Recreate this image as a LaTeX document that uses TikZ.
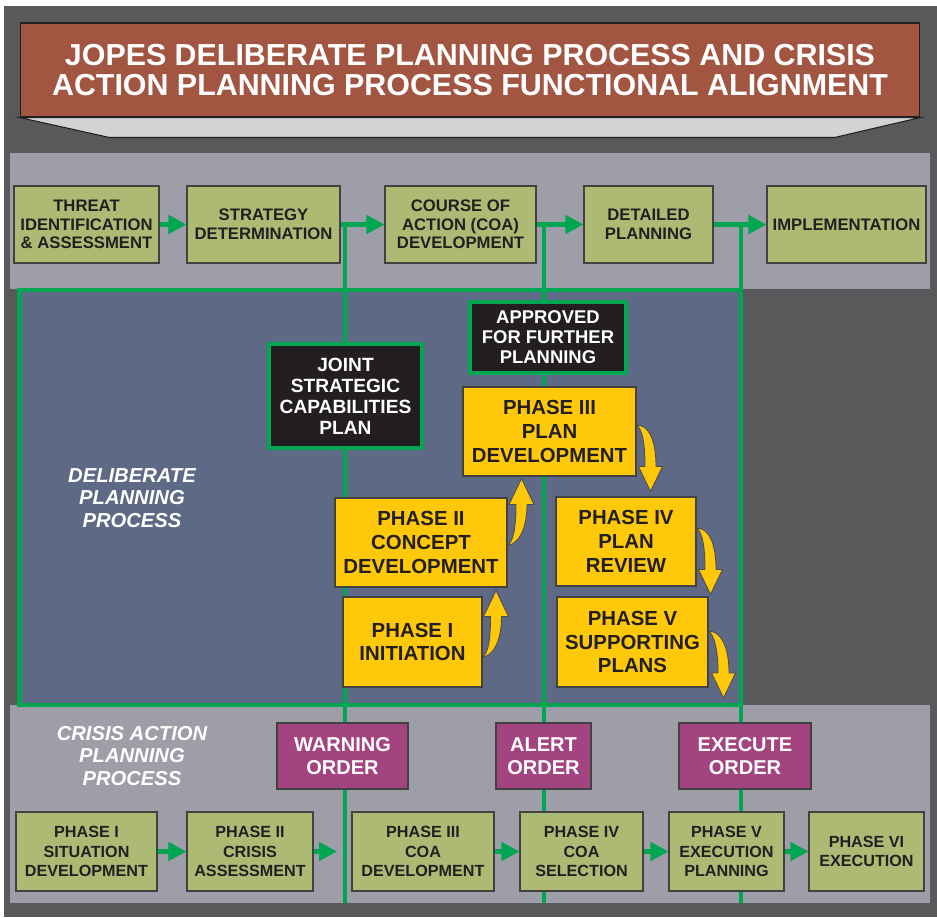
\documentclass[tikz,border=0pt]{standalone}
\usepackage{fontspec}
\setmainfont{Liberation Sans}
\usetikzlibrary{calc,arrows.meta}

\definecolor{bgdark}{HTML}{58595B}
\definecolor{panelgray}{HTML}{9D9EA8}
\definecolor{delblue}{HTML}{5E6A85}
\definecolor{jgreen}{HTML}{00A651}
\definecolor{olive}{HTML}{ADBA74}
\definecolor{pyellow}{HTML}{FFC90A}
\definecolor{ordermag}{HTML}{A34481}
\definecolor{bannerred}{HTML}{A25641}
\definecolor{shadowgray}{HTML}{D1D3D4}
\definecolor{inkdark}{HTML}{231F20}

% curved phase arrows: #1 start on the box edge, #2 tip
\newcommand{\arrup}[2]{%
\filldraw[yarrow](#1)
.. controls ($(#1)+(10,-1)$) and ($(#2)+(5.5,52)$) .. ($(#2)+(5.5,26)$)
--($(#2)+(12.5,26)$)--(#2)--($(#2)+(-12.5,26)$)--($(#2)+(-5.5,26)$)
.. controls ($(#2)+(-5.5,48)$) and ($(#1)+(6,-4)$) .. (#1)--cycle;}
\newcommand{\arrdown}[2]{%
\filldraw[yarrow](#1)
.. controls ($(#1)+(12,0)$) and ($(#2)+(5.5,-52)$) .. ($(#2)+(5.5,-25)$)
--($(#2)+(12,-25)$)--(#2)--($(#2)+(-12,-25)$)--($(#2)+(-5.5,-25)$)
.. controls ($(#2)+(-5.5,-47)$) and ($(#1)+(6,4)$) .. (#1)--cycle;}

\begin{document}
\begin{tikzpicture}[x=0.02cm,y=-0.02cm,font=\bfseries]
% Box styles: olive steps, yellow phases, black plans, magenta orders
\tikzstyle{olive box}=[draw=inkdark!85,line width=0.6pt,fill=olive,text=inkdark,inner sep=0,align=center,font=\bfseries\fontsize{9.5}{10.6}\selectfont];
\tikzstyle{cap box}=[olive box,font=\bfseries\fontsize{9.2}{11}\selectfont];
\tikzstyle{phase box}=[draw=inkdark!85,line width=0.6pt,fill=pyellow,text=inkdark,inner sep=0,align=center,font=\bfseries\fontsize{11.6}{13.6}\selectfont];
\tikzstyle{plan box}=[draw=jgreen,line width=2.5pt,fill=inkdark,text=white,inner sep=0,align=center];
\tikzstyle{order box}=[draw=inkdark!85,line width=0.6pt,fill=ordermag,text=white,inner sep=0,align=center,minimum height=1.32cm,font=\bfseries\fontsize{11.4}{13}\selectfont];
\tikzstyle{side label}=[text=white,align=center,font=\bfseries\itshape\fontsize{11.5}{12.7}\selectfont];
% Lines and arrows
\tikzstyle{gline}=[draw=jgreen,line width=2.6pt];
\tikzstyle{garrow}=[gline,-{Triangle[length=3.6mm,width=3.6mm]}];
\tikzstyle{yarrow}=[fill=pyellow,draw=inkdark!80,line width=0.5pt,line join=round];
\useasboundingbox(0,0)rectangle(937,917);
% Backgrounds
\fill[bgdark](4,6)rectangle(937,917);
\fill[panelgray](10,153)rectangle(930,289);
\fill[panelgray](10,705)rectangle(930,903);
\fill[delblue](19.5,290)rectangle(741,705);
% Title banner
\node(title)[draw=inkdark,line width=0.6pt,fill=bannerred,text=white,align=center,inner sep=0,minimum width=18cm,minimum height=1.88cm,font=\bfseries\fontsize{17.3}{17.6}\selectfont]at(470,70){JOPES DELIBERATE PLANNING PROCESS AND CRISIS\\ACTION PLANNING PROCESS FUNCTIONAL ALIGNMENT};
\draw[fill=shadowgray,draw=inkdark,line width=0.6pt](title.south west)--(title.south east)--++(-86,20)--($(title.south west)+(90,20)$)--cycle;
% Green frame and the three alignment lines
\draw[gline](19.5,290)rectangle(741,705);
\coordinate(v1t)at(345,224.5);\coordinate(v1b)at(345,903);
\coordinate(v2t)at(544,224.5);\coordinate(v2b)at(544,903);
\coordinate(v3t)at(741,224.5);\coordinate(v3b)at(741,903);
\draw[gline](v1t)--(v1b);
\draw[gline](v2t)--(v2b);
\draw[gline](v3t)--(v3b);
% Deliberate planning functions
\node(threat)[olive box,minimum width=2.9cm,minimum height=1.54cm]at(86.5,224.5){THREAT\\IDENTIFICATION\\\& ASSESSMENT};
\node(strat)[olive box,minimum width=3.06cm,minimum height=1.54cm]at(263.5,224.5){STRATEGY\\DETERMINATION};
\node(coa)[olive box,minimum width=3.02cm,minimum height=1.54cm]at(460.5,224.5){COURSE OF\\ACTION (COA)\\DEVELOPMENT};
\node(detail)[olive box,minimum width=2.58cm,minimum height=1.54cm]at(648.5,224.5){DETAILED\\PLANNING};
\node(impl)[olive box,minimum width=3.18cm,minimum height=1.54cm]at(846.5,224.5){IMPLEMENTATION};
\draw[garrow](threat)--(strat);
\draw[garrow](strat)--(coa);
\draw[garrow](coa)--(detail);
\draw[garrow](detail)--(impl);
% Deliberate planning process
\node(dpp)[side label]at(132,498){DELIBERATE\\PLANNING\\PROCESS};
\node(jscp)[plan box,minimum width=3.06cm,minimum height=2.08cm,font=\bfseries\fontsize{10.9}{12}\selectfont]at(345.5,396){JOINT\\STRATEGIC\\CAPABILITIES\\PLAN};
\node(appr)[plan box,minimum width=3.12cm,minimum height=1.42cm,font=\bfseries\fontsize{10.5}{11.4}\selectfont]at(548,337.5){APPROVED\\FOR FURTHER\\PLANNING};
\node(p3)[phase box,minimum width=3.46cm,minimum height=1.78cm]at(549.5,431.5){PHASE III\\PLAN\\DEVELOPMENT};
\node(p2)[phase box,minimum width=3.44cm,minimum height=1.78cm]at(421,542.5){PHASE II\\CONCEPT\\DEVELOPMENT};
\node(p1)[phase box,minimum width=2.78cm,minimum height=1.8cm]at(412.5,642){PHASE I\\INITIATION};
\node(p4)[phase box,minimum width=2.8cm,minimum height=1.78cm]at(626,541.5){PHASE IV\\PLAN\\REVIEW};
\node(p5)[phase box,minimum width=3.02cm,minimum height=1.8cm]at(632.5,642){PHASE V\\SUPPORTING\\PLANS};
\coordinate(a1s)at($(p1.east)+(0,15)$);\coordinate(a1t)at($(a1s |- p2.south)+(13.5,3)$);
\coordinate(a2s)at($(p2.east)+(0,3)$);\coordinate(a2t)at($(a2s |- p3.south)+(14,2)$);
\coordinate(a3s)at($(p3.east)+(0,-6.5)$);\coordinate(a3t)at($(a3s |- p4.north)+(14,-5)$);
\coordinate(a4s)at($(p4.east)+(0,-13.5)$);\coordinate(a4t)at($(a4s |- p5.north)+(14,-2)$);
\coordinate(a5s)at($(p5.east)+(0,-11)$);\coordinate(a5t)at($(a5s)+(15,67)$);
\arrup{a1s}{a1t}
\arrup{a2s}{a2t}
\arrdown{a3s}{a3t}
\arrdown{a4s}{a4t}
\arrdown{a5s}{a5t}
% Crisis action planning process
\node(capp)[side label]at(132,756){CRISIS ACTION\\PLANNING\\PROCESS};
\node(warn)[order box,minimum width=2.62cm]at(342.5,756){WARNING\\ORDER};
\node(alert)[order box,minimum width=1.9cm]at(543.5,756){ALERT\\ORDER};
\node(exec)[order box,minimum width=2.64cm]at(745,756){EXECUTE\\ORDER};
\node(b1)[cap box,minimum width=2.82cm,minimum height=1.58cm]at(86.5,851.5){PHASE I\\SITUATION\\DEVELOPMENT};
\node(b2)[cap box,minimum width=2.52cm,minimum height=1.58cm]at(250,851.5){PHASE II\\CRISIS\\ASSESSMENT};
\node(b3)[cap box,minimum width=2.84cm,minimum height=1.58cm]at(423,851.5){PHASE III\\COA\\DEVELOPMENT};
\node(b4)[cap box,minimum width=2.46cm,minimum height=1.58cm]at(581.5,851.5){PHASE IV\\COA\\SELECTION};
\node(b5)[cap box,minimum width=2.3cm,minimum height=1.58cm]at(726.5,851.5){PHASE V\\EXECUTION\\PLANNING};
\node(b6)[cap box,minimum width=2.3cm,minimum height=1.58cm]at(866.5,851.5){PHASE VI\\EXECUTION};
\coordinate(b2e)at(337,851.5);
\draw[garrow](b1)--(b2);
\draw[garrow](b2)--(b2e);
\draw[garrow](b3)--(b4);
\draw[garrow](b4)--(b5);
\draw[garrow](b5)--(b6);
\end{tikzpicture}
\end{document}
